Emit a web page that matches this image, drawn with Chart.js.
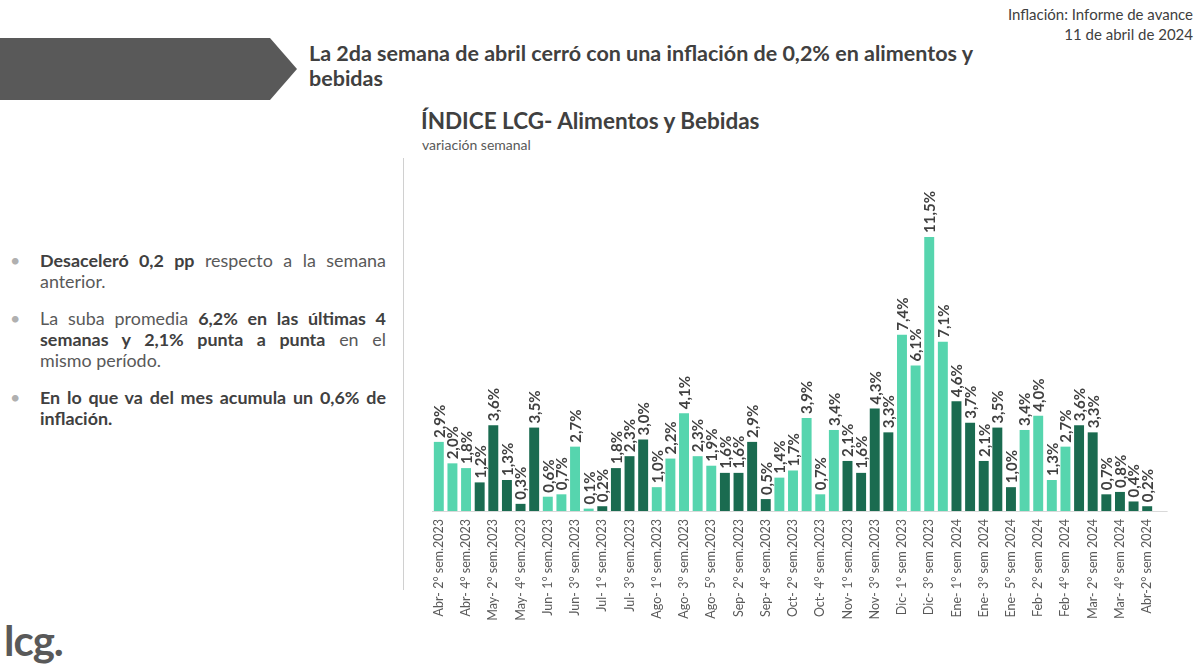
<!DOCTYPE html>
<html lang="es">
<head>
<meta charset="utf-8">
<title>Índice LCG - Alimentos y Bebidas</title>
<script src="https://cdn.jsdelivr.net/npm/chart.js@4/dist/chart.umd.min.js"></script>
<style>
  html, body { margin:0; padding:0; background:#fff; }
  body { width:1200px; height:672px; position:relative; overflow:hidden; font-family:Lato, "Open Sans", sans-serif; color:#404040; }
  .informe { position:absolute; right:7px; top:4px; text-align:right; font-size:15px; line-height:20px; color:#404040; }
  .flecha { position:absolute; left:0; top:38px; width:297px; height:62px; background:#595959;
            clip-path:polygon(0 0, 270px 0, 297px 50%, 270px 100%, 0 100%); }
  .titular { position:absolute; left:309px; top:41px; width:680px; font-size:21.5px; font-weight:700; line-height:25px; color:#404040; }
  .grafico-titulo { position:absolute; left:421px; top:107px; font-size:22.5px; font-weight:700; color:#404040; }
  .grafico-sub { position:absolute; left:422px; top:136px; font-size:14px; color:#595959; }
  .divisor { position:absolute; left:403px; top:158px; width:1px; height:432px; background:#d0d0d0; }
  ul.puntos { position:absolute; left:10px; top:250px; width:376px; margin:0; padding:0; list-style:none; }
  ul.puntos li { position:relative; padding-left:30px; font-size:17.9px; line-height:21px; color:#595959; text-align:justify; margin-bottom:16px; }
  ul.puntos li::before { content:'•'; position:absolute; left:0; top:0; color:#b0b0b0; }
  ul.puntos b { color:#404040; }
  .logo { position:absolute; left:4px; top:615px; font-size:42px; font-weight:700; color:#595959; letter-spacing:-1px; }
  #wrap { position:absolute; left:400px; top:150px; width:800px; height:522px; }
</style>
</head>
<body>
  <div class="informe">Inflación: Informe de avance<br>11 de abril de 2024</div>
  <div class="flecha"></div>
  <div class="titular">La 2da semana de abril cerró con una inflación de 0,2% en alimentos y bebidas</div>

  <div class="grafico-titulo">ÍNDICE LCG- Alimentos y Bebidas</div>
  <div class="grafico-sub">variación semanal</div>
  <div class="divisor"></div>

  <ul class="puntos">
    <li><b>Desaceleró 0,2 pp</b> respecto a la semana anterior.</li>
    <li>La suba promedia <b>6,2% en las últimas 4 semanas y 2,1% punta a punta</b> en el mismo&nbsp;período.</li>
    <li><b>En lo que va del mes acumula un 0,6% de inflación.</b></li>
  </ul>

  <div class="logo">lcg.</div>

  <div id="wrap"><canvas id="grafico"></canvas></div>

<script>
// semanas relevadas (solo se rotulan las pares, como en el original)
const semanas = [
  'Abr- 2° sem.2023', 'Abr- 3° sem.2023', 'Abr- 4° sem.2023',
  'May- 1° sem.2023', 'May- 2° sem.2023', 'May- 3° sem.2023', 'May- 4° sem.2023', 'May- 5° sem.2023',
  'Jun- 1° sem.2023', 'Jun- 2° sem.2023', 'Jun- 3° sem.2023', 'Jun- 4° sem.2023',
  'Jul- 1° sem.2023', 'Jul- 2° sem.2023', 'Jul- 3° sem.2023', 'Jul- 4° sem.2023',
  'Ago- 1° sem.2023', 'Ago- 2° sem.2023', 'Ago- 3° sem.2023', 'Ago- 4° sem.2023', 'Ago- 5° sem.2023',
  'Sep- 1° sem.2023', 'Sep- 2° sem.2023', 'Sep- 3° sem.2023', 'Sep- 4° sem.2023',
  'Oct- 1° sem.2023', 'Oct- 2° sem.2023', 'Oct- 3° sem.2023', 'Oct- 4° sem.2023', 'Oct- 5° sem.2023',
  'Nov- 1° sem.2023', 'Nov- 2° sem.2023', 'Nov- 3° sem.2023', 'Nov- 4° sem.2023',
  'Dic- 1° sem 2023', 'Dic- 2° sem 2023', 'Dic- 3° sem 2023', 'Dic- 4° sem 2023',
  'Ene- 1° sem 2024', 'Ene- 2° sem 2024', 'Ene- 3° sem 2024', 'Ene- 4° sem 2024', 'Ene- 5° sem 2024',
  'Feb- 1° sem 2024', 'Feb- 2° sem 2024', 'Feb- 3° sem 2024', 'Feb- 4° sem 2024',
  'Mar- 1° sem 2024', 'Mar- 2° sem 2024', 'Mar- 3° sem 2024', 'Mar- 4° sem 2024', 'Mar- 5° sem 2024',
  'Abr-2° sem 2024'
];

// variación semanal, %
const variacion = [
  2.9, 2.0, 1.8,
  1.2, 3.6, 1.3, 0.3, 3.5,
  0.6, 0.7, 2.7, 0.1,
  0.2, 1.8, 2.3, 3.0,
  1.0, 2.2, 4.1, 2.3, 1.9,
  1.6, 1.6, 2.9, 0.5,
  1.4, 1.7, 3.9, 0.7, 3.4,
  2.1, 1.6, 4.3, 3.3,
  7.4, 6.1, 11.5, 7.1,
  4.6, 3.7, 2.1, 3.5, 1.0,
  3.4, 4.0, 1.3, 2.7,
  3.6, 3.3, 0.7, 0.8, 0.4,
  0.2
];

// meses que van en verde oscuro (mes + año)
const mesesOscuros = ['May2023', 'Jul2023', 'Sep2023', 'Nov2023', 'Ene2024', 'Mar2024', 'Abr2024'];

const VERDE_CLARO = '#56d5ae';
const VERDE_OSCURO = '#1a6b50';

const claveMes = s => s.slice(0, 3) + s.slice(-4);
const colores = semanas.map(s => mesesOscuros.includes(claveMes(s)) ? VERDE_OSCURO : VERDE_CLARO);
const fmt = v => v.toFixed(1).replace('.', ',') + '%';

// rótulos de valor, verticales sobre cada barra
const rotulos = {
  id: 'rotulos',
  afterDatasetsDraw(chart) {
    const { ctx } = chart;
    const meta = chart.getDatasetMeta(0);
    ctx.save();
    ctx.font = 'bold 15px Lato';
    ctx.fillStyle = '#404040';
    ctx.textAlign = 'left';
    ctx.textBaseline = 'middle';
    meta.data.forEach((bar, i) => {
      ctx.save();
      ctx.translate(bar.x + 1, bar.y - 4);
      ctx.rotate(-Math.PI / 2);
      ctx.fillText(fmt(variacion[i]), 0, 0);
      ctx.restore();
    });
    ctx.restore();
  }
};

// eje horizontal un poco más largo que las barras, como en el original
const ejeBase = {
  id: 'ejeBase',
  afterDatasetsDraw(chart) {
    const { ctx, chartArea } = chart;
    const paso = (chartArea.right - chartArea.left) / semanas.length;
    ctx.save();
    ctx.strokeStyle = '#d9d9d9';
    ctx.lineWidth = 1;
    ctx.beginPath();
    ctx.moveTo(chartArea.left, chartArea.bottom + 0.5);
    ctx.lineTo(chartArea.right + paso, chartArea.bottom + 0.5);
    ctx.stroke();
    ctx.restore();
  }
};

new Chart(document.getElementById('grafico'), {
  type: 'bar',
  data: {
    labels: semanas,
    datasets: [{
      data: variacion,
      backgroundColor: colores,
      borderWidth: 0,
      categoryPercentage: 1,
      barPercentage: 0.73,
    }],
  },
  options: {
    responsive: true, maintainAspectRatio: false, animation: false,
    layout: { padding: { top: 75, left: 32, right: 46, bottom: 0 } },
    plugins: { legend: { display: false }, tooltip: { enabled: false } },
    scales: {
      x: {
        grid: { display: false, drawTicks: false },
        border: { display: false },
        afterFit: scale => { scale.height = 161; },
        ticks: {
          autoSkip: false, minRotation: 90, maxRotation: 90, padding: 8,
          color: '#595959', font: { family: 'Lato', size: 12.5 },
          callback: (v, i) => i % 2 === 0 ? semanas[i] : '',
        },
      },
      y: { display: false, min: 0, max: 12 },
    },
  },
  plugins: [rotulos, ejeBase],
});
</script>
</body>
</html>
